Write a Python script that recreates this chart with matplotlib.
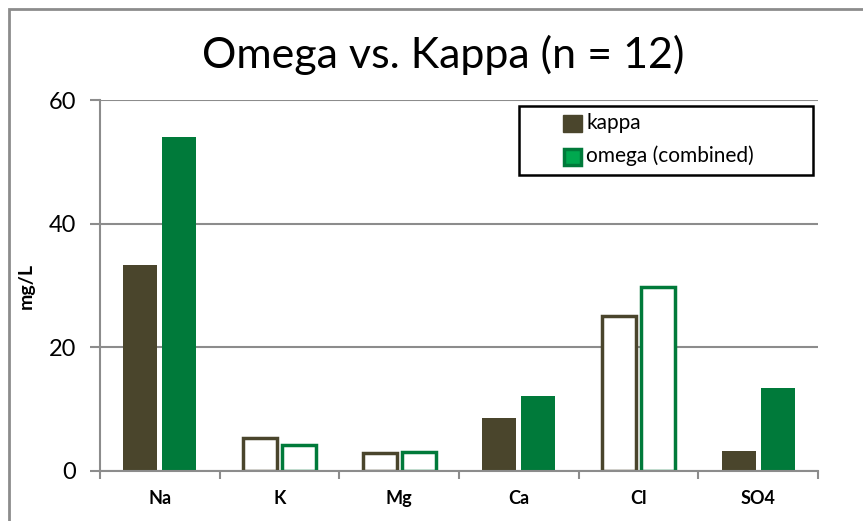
import numpy as np
import matplotlib.pyplot as plt
from matplotlib.patches import Rectangle

ions = ["Na", "K", "Mg", "Ca", "Cl", "SO4"]
kappa = [33.3, 5.3, 2.9, 8.5, 25.1, 3.3]
omega = [54.0, 4.2, 3.1, 12.2, 29.7, 13.5]
# hollow bars for K, Mg and Cl
hollow = [False, True, True, False, True, False]
series_names = ["kappa", "omega (combined)"]

kappa_col = "#4a452c"
omega_col = "#007a3a"
grid_col = "#8c8c8c"

plt.rcParams["font.family"] = ["Lato", "DejaVu Sans"]

fig = plt.figure(figsize=(8.63, 5.21), dpi=100)
ax = fig.add_axes([0.1159, 0.096, 0.832, 0.712])

# outer chart border
fig.patches.append(Rectangle((9 / 863, -0.1), 1.2, 1.1 - 9 / 521, transform=fig.transFigure,
                             fill=False, edgecolor=grid_col, linewidth=2))

x = np.arange(len(ions))
w = 0.285
gap = 0.02
for i in range(len(ions)):
    if hollow[i]:
        ax.bar(x[i] - w / 2 - gap, kappa[i], w, facecolor="white", edgecolor=kappa_col, linewidth=2.5)
        ax.bar(x[i] + w / 2 + gap, omega[i], w, facecolor="white", edgecolor=omega_col, linewidth=2.5)
    else:
        ax.bar(x[i] - w / 2 - gap, kappa[i], w, color=kappa_col)
        ax.bar(x[i] + w / 2 + gap, omega[i], w, color=omega_col)

ax.set_xlim(-0.5, len(ions) - 0.5)
ax.set_ylim(0, 60)
ax.set_yticks([0, 20, 40, 60])
ax.yaxis.grid(True, color=grid_col, linewidth=1.5)
ax.set_axisbelow(True)

ax.set_xticks(x)
ax.set_xticklabels(ions, fontweight="bold", fontsize=13)
ax.set_xticks(np.arange(len(ions) + 1) - 0.5, minor=True)
ax.tick_params(axis="x", which="major", length=0, pad=14)
ax.tick_params(axis="x", which="minor", length=6, width=1.5, color=grid_col)
ax.tick_params(axis="y", length=7, width=1.5, color=grid_col, labelsize=17, pad=10)

for s in ["top", "right"]:
    ax.spines[s].set_visible(False)
for s in ["left", "bottom"]:
    ax.spines[s].set_color(grid_col)
    ax.spines[s].set_linewidth(1.5)

ax.set_ylabel("mg/L", fontweight="bold", fontsize=14, labelpad=10)

fig.text(0.513, 0.895, "Omega vs. Kappa (n = 12)", fontsize=31, ha="center", va="center")

# legend box drawn by hand, wide with left padding like the original
ax.add_patch(Rectangle((0.5836, 0.798), 0.4094, 0.186, transform=ax.transAxes,
                       facecolor="white", edgecolor="black", linewidth=1.8, clip_on=False, zorder=5))
ax.add_patch(Rectangle((0.645, 0.914), 0.0265, 0.045, transform=ax.transAxes,
                       facecolor=kappa_col, edgecolor=kappa_col, clip_on=False, zorder=6))
ax.add_patch(Rectangle((0.646, 0.824), 0.0245, 0.045, transform=ax.transAxes,
                       facecolor="#00a84f", edgecolor=omega_col, linewidth=2.5, clip_on=False, zorder=6))
ax.text(0.677, 0.922, series_names[0], transform=ax.transAxes, fontsize=15,
        va="baseline", ha="left", zorder=7)
ax.text(0.677, 0.832, series_names[1], transform=ax.transAxes, fontsize=15,
        va="baseline", ha="left", zorder=7)

fig.savefig("out.png", dpi=100)
